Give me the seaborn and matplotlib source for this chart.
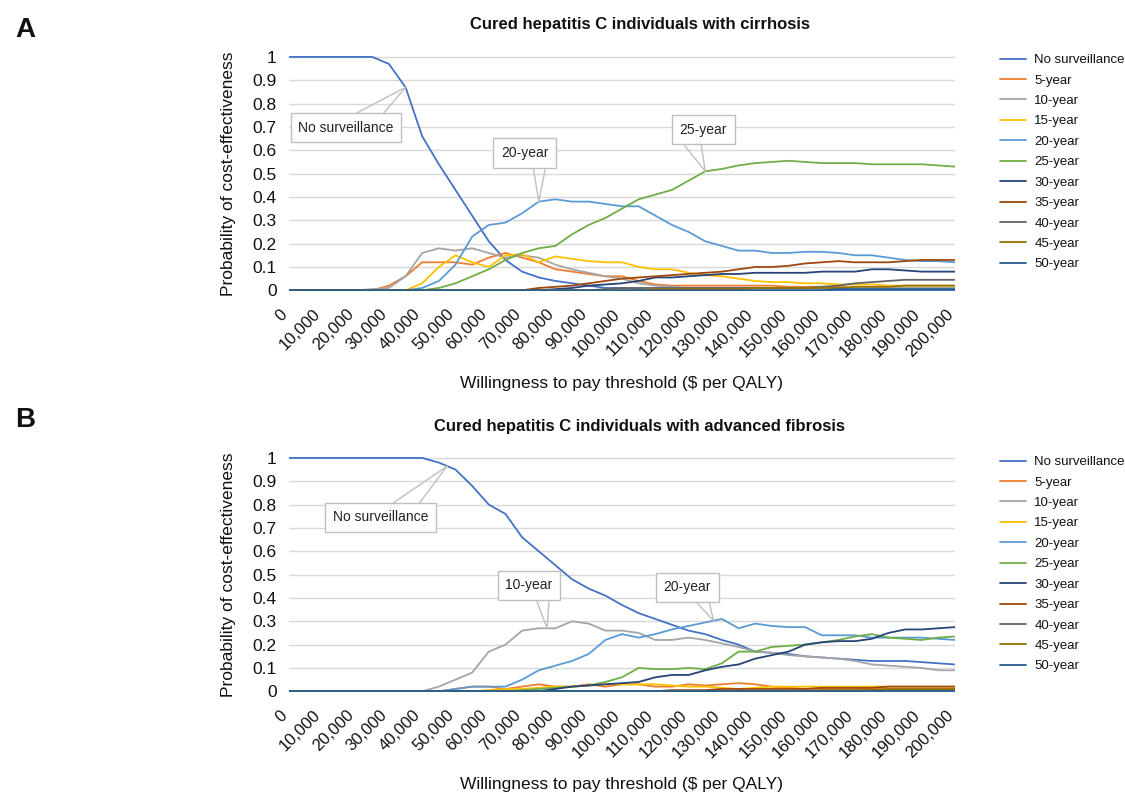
import numpy as np
import pandas as pd
import matplotlib
matplotlib.use("Agg")
import matplotlib.pyplot as plt
import matplotlib.transforms as mtransforms
import seaborn as sns

# Umbral de disposicion a pagar ($ por QALY), cada 5,000
wtp = np.arange(0, 200001, 5000)

strategies = ["No surveillance", "5-year", "10-year", "15-year", "20-year", "25-year",
              "30-year", "35-year", "40-year", "45-year", "50-year"]
colors = ["#4472C4", "#ED7D31", "#A5A5A5", "#FFC000", "#5B9BD5", "#70AD47",
          "#264478", "#9E480E", "#636363", "#997300", "#255E91"]

# ---- Panel A: cirrosis ----
nosurv_a = [1, 1, 1, 1, 1, 1, 0.97, 0.87, 0.66, 0.54,
            0.43, 0.32, 0.21, 0.13, 0.08, 0.055, 0.04, 0.03, 0.02, 0.01,
            0.01, 0.005, 0, 0, 0, 0, 0, 0, 0, 0,
            0, 0, 0, 0, 0, 0, 0, 0, 0, 0,
            0]
y5_a = [0, 0, 0, 0, 0, 0, 0.02, 0.06, 0.12, 0.12,
        0.12, 0.11, 0.14, 0.16, 0.14, 0.12, 0.09, 0.08, 0.07, 0.06,
        0.06, 0.04, 0.025, 0.02, 0.02, 0.02, 0.02, 0.02, 0.02, 0.02,
        0.015, 0.015, 0.015, 0.015, 0.01, 0.01, 0.01, 0.01, 0.01, 0.01,
        0.01]
y10_a = [0, 0, 0, 0, 0, 0.005, 0.01, 0.06, 0.16, 0.18,
         0.17, 0.18, 0.16, 0.14, 0.15, 0.14, 0.11, 0.09, 0.075, 0.06,
         0.05, 0.03, 0.02, 0.015, 0.01, 0.01, 0.01, 0.01, 0.01, 0.01,
         0.01, 0.01, 0.01, 0.01, 0.01, 0.01, 0.01, 0.01, 0.01, 0.01,
         0.01]
y15_a = [0, 0, 0, 0, 0, 0, 0, 0, 0.03, 0.10,
         0.15, 0.12, 0.10, 0.15, 0.155, 0.12, 0.145, 0.135, 0.125, 0.12,
         0.12, 0.10, 0.09, 0.09, 0.075, 0.065, 0.06, 0.05, 0.04, 0.035,
         0.035, 0.03, 0.03, 0.025, 0.025, 0.025, 0.02, 0.02, 0.02, 0.02,
         0.02]
y20_a = [0, 0, 0, 0, 0, 0, 0, 0, 0.01, 0.04,
         0.11, 0.23, 0.28, 0.29, 0.33, 0.38, 0.39, 0.38, 0.38, 0.37,
         0.36, 0.36, 0.32, 0.28, 0.25, 0.21, 0.19, 0.17, 0.17, 0.16,
         0.16, 0.165, 0.165, 0.16, 0.15, 0.15, 0.14, 0.13, 0.125, 0.125,
         0.12]
y25_a = [0, 0, 0, 0, 0, 0, 0, 0, 0, 0.01,
         0.03, 0.06, 0.09, 0.13, 0.16, 0.18, 0.19, 0.24, 0.28, 0.31,
         0.35, 0.39, 0.41, 0.43, 0.47, 0.51, 0.52, 0.535, 0.545, 0.55,
         0.555, 0.55, 0.545, 0.545, 0.545, 0.54, 0.54, 0.54, 0.54, 0.535,
         0.53]
y30_a = [0, 0, 0, 0, 0, 0, 0, 0, 0, 0,
         0, 0, 0, 0, 0, 0, 0.005, 0.01, 0.02, 0.025,
         0.03, 0.04, 0.055, 0.055, 0.06, 0.065, 0.07, 0.07, 0.075, 0.075,
         0.075, 0.075, 0.08, 0.08, 0.08, 0.09, 0.09, 0.085, 0.08, 0.08,
         0.08]
y35_a = [0, 0, 0, 0, 0, 0, 0, 0, 0, 0,
         0, 0, 0, 0, 0, 0.01, 0.015, 0.02, 0.03, 0.04,
         0.05, 0.055, 0.06, 0.065, 0.07, 0.075, 0.08, 0.09, 0.10, 0.10,
         0.105, 0.115, 0.12, 0.125, 0.12, 0.12, 0.12, 0.125, 0.13, 0.13,
         0.13]
y40_a = [0, 0, 0, 0, 0, 0, 0, 0, 0, 0,
         0, 0, 0, 0, 0, 0, 0, 0, 0, 0.005,
         0.01, 0.01, 0.01, 0.01, 0.01, 0.01, 0.01, 0.01, 0.01, 0.01,
         0.01, 0.01, 0.015, 0.02, 0.03, 0.035, 0.04, 0.045, 0.045, 0.045,
         0.045]
y45_a = [0, 0, 0, 0, 0, 0, 0, 0, 0, 0,
         0, 0, 0, 0, 0, 0, 0, 0, 0, 0,
         0, 0, 0.005, 0.005, 0.005, 0.005, 0.005, 0.005, 0.01, 0.01,
         0.01, 0.01, 0.01, 0.01, 0.015, 0.015, 0.015, 0.02, 0.02, 0.02,
         0.02]
y50_a = [0, 0, 0, 0, 0, 0, 0, 0, 0, 0,
         0, 0, 0, 0, 0, 0, 0, 0, 0, 0,
         0, 0, 0, 0, 0, 0, 0, 0, 0, 0,
         0, 0, 0, 0.005, 0.005, 0.005, 0.005, 0.005, 0.005, 0.005,
         0.005]

# ---- Panel B: fibrosis avanzada ----
nosurv_b = [1, 1, 1, 1, 1, 1, 1, 1, 1, 0.98,
            0.95, 0.88, 0.80, 0.76, 0.66, 0.60, 0.54, 0.48, 0.44, 0.41,
            0.37, 0.335, 0.31, 0.285, 0.26, 0.245, 0.22, 0.20, 0.17, 0.165,
            0.16, 0.15, 0.145, 0.14, 0.135, 0.13, 0.13, 0.13, 0.125, 0.12,
            0.115]
y5_b = [0, 0, 0, 0, 0, 0, 0, 0, 0, 0,
        0.01, 0.02, 0.02, 0.01, 0.02, 0.03, 0.02, 0.02, 0.03, 0.02,
        0.03, 0.03, 0.02, 0.02, 0.03, 0.025, 0.03, 0.035, 0.03, 0.02,
        0.015, 0.01, 0.01, 0.01, 0.01, 0.01, 0.01, 0.01, 0.01, 0.01,
        0.01]
y10_b = [0, 0, 0, 0, 0, 0, 0, 0, 0, 0.02,
         0.05, 0.08, 0.17, 0.20, 0.26, 0.27, 0.27, 0.30, 0.29, 0.26,
         0.26, 0.25, 0.22, 0.22, 0.23, 0.22, 0.205, 0.19, 0.17, 0.165,
         0.155, 0.15, 0.145, 0.14, 0.13, 0.115, 0.11, 0.105, 0.10, 0.09,
         0.09]
y15_b = [0, 0, 0, 0, 0, 0, 0, 0, 0, 0,
         0, 0, 0.005, 0.01, 0.01, 0.015, 0.02, 0.02, 0.025, 0.03,
         0.03, 0.03, 0.03, 0.025, 0.02, 0.02, 0.015, 0.01, 0.015, 0.02,
         0.02, 0.02, 0.02, 0.02, 0.02, 0.02, 0.02, 0.02, 0.02, 0.02,
         0.02]
y20_b = [0, 0, 0, 0, 0, 0, 0, 0, 0, 0,
         0.01, 0.02, 0.02, 0.02, 0.05, 0.09, 0.11, 0.13, 0.16, 0.22,
         0.245, 0.23, 0.245, 0.265, 0.28, 0.295, 0.31, 0.27, 0.29, 0.28,
         0.275, 0.275, 0.24, 0.24, 0.24, 0.23, 0.23, 0.23, 0.23, 0.225,
         0.22]
y25_b = [0, 0, 0, 0, 0, 0, 0, 0, 0, 0,
         0, 0, 0, 0, 0.005, 0.01, 0.015, 0.02, 0.025, 0.04,
         0.06, 0.10, 0.095, 0.095, 0.10, 0.095, 0.12, 0.17, 0.17, 0.19,
         0.195, 0.20, 0.21, 0.22, 0.235, 0.245, 0.23, 0.225, 0.22, 0.23,
         0.235]
y30_b = [0, 0, 0, 0, 0, 0, 0, 0, 0, 0,
         0, 0, 0, 0, 0, 0, 0.01, 0.02, 0.025, 0.03,
         0.035, 0.04, 0.06, 0.07, 0.07, 0.09, 0.105, 0.115, 0.14, 0.155,
         0.17, 0.20, 0.21, 0.215, 0.215, 0.225, 0.25, 0.265, 0.265, 0.27,
         0.275]
y35_b = [0, 0, 0, 0, 0, 0, 0, 0, 0, 0,
         0, 0, 0, 0, 0, 0, 0, 0, 0, 0,
         0, 0, 0, 0.005, 0.005, 0.005, 0.01, 0.01, 0.01, 0.01,
         0.01, 0.01, 0.015, 0.015, 0.015, 0.015, 0.02, 0.02, 0.02, 0.02,
         0.02]
y40_b = [0, 0, 0, 0, 0, 0, 0, 0, 0, 0,
         0, 0, 0, 0, 0, 0, 0, 0, 0, 0,
         0, 0, 0, 0, 0, 0, 0, 0, 0, 0,
         0, 0, 0, 0, 0, 0.005, 0.005, 0.005, 0.005, 0.005,
         0.005]
y45_b = [0, 0, 0, 0, 0, 0, 0, 0, 0, 0,
         0, 0, 0, 0, 0, 0, 0, 0, 0, 0,
         0, 0, 0, 0, 0, 0, 0, 0, 0, 0,
         0, 0, 0.005, 0.005, 0.005, 0.005, 0.01, 0.01, 0.01, 0.01,
         0.01]
y50_b = [0] * 41

series_a = [nosurv_a, y5_a, y10_a, y15_a, y20_a, y25_a, y30_a, y35_a, y40_a, y45_a, y50_a]
series_b = [nosurv_b, y5_b, y10_b, y15_b, y20_b, y25_b, y30_b, y35_b, y40_b, y45_b, y50_b]

xticks = np.arange(0, 200001, 10000)
yticks = np.round(np.arange(0, 1.01, 0.1), 1)
ytick_labels = ["0" if v == 0 else ("1" if v == 1 else f"{v:.1f}") for v in yticks]

sns.set_theme(style="white")
plt.rcParams["font.family"] = ["Liberation Sans", "DejaVu Sans"]
plt.rcParams["text.color"] = "#111111"
plt.rcParams["axes.labelcolor"] = "#111111"
plt.rcParams["xtick.color"] = "#111111"
plt.rcParams["ytick.color"] = "#111111"


def long_df(series):
    rows = []
    for name, vals in zip(strategies, series):
        for x, v in zip(wtp, vals):
            rows.append((x, v, name))
    return pd.DataFrame(rows, columns=["wtp", "prob", "strategy"])


def callout(ax, text, name, series, x, box_off, leg_offs):
    # recuadro con dos lineas guia hacia la curva (estilo Excel)
    vals = series[strategies.index(name)]
    y = np.interp(x, wtp, vals)
    for off in leg_offs:
        ax.annotate("", xy=(x, y), xytext=off, textcoords="offset points",
                    arrowprops=dict(arrowstyle="-", color="#BFBFBF", lw=1.0,
                                    shrinkA=0, shrinkB=0), zorder=5)
    ax.annotate(text, xy=(x, y), xytext=box_off, textcoords="offset points",
                ha="center", va="center", fontsize=10, color="#222222", zorder=6,
                bbox=dict(boxstyle="square,pad=0.55", fc="white", ec="#BFBFBF", lw=1.0))


def draw_panel(fig, rect, series, title, title_y, letter, letter_y, legend_top, callouts):
    ax = fig.add_axes(rect)
    df = long_df(series)
    sns.lineplot(data=df, x="wtp", y="prob", hue="strategy", hue_order=strategies,
                 palette=colors, linewidth=1.3, ax=ax)
    ax.set_xlim(0, 200000)
    ax.set_ylim(-0.003, 1.004)
    ax.set_yticks(yticks)
    ax.set_yticklabels(ytick_labels, fontsize=12.5)
    ax.set_xticks(xticks)
    ax.set_xticklabels([f"{v:,}" for v in xticks], rotation=45, ha="right",
                       va="center", rotation_mode="anchor", fontsize=12)
    ax.tick_params(axis="x", length=0, pad=15)
    ax.tick_params(axis="y", length=0, pad=9)
    shift = mtransforms.ScaledTranslation(-3 / 72, 0, fig.dpi_scale_trans)
    for lab in ax.get_xticklabels():
        lab.set_transform(lab.get_transform() + shift)
    ax.grid(axis="y", color="#D9D9D9", lw=1.0)
    ax.set_axisbelow(True)
    for s in ax.spines.values():
        s.set_visible(False)
    ax.set_xlabel("Willingness to pay threshold ($ per QALY)", fontsize=12.5, labelpad=12)
    ax.set_ylabel("Probability of cost-effectiveness", fontsize=12.5, labelpad=12)

    handles, labels = ax.get_legend_handles_labels()
    ax.legend(handles, labels, loc="upper left", bbox_to_anchor=(1000 / 1125, legend_top),
              bbox_transform=fig.transFigure, frameon=False, fontsize=9.5,
              handlelength=2.0, handletextpad=0.6, labelspacing=0.62,
              borderpad=0, borderaxespad=0)

    fig.text(640 / 1125, title_y, title, ha="center", va="center",
             fontsize=12, fontweight="bold")
    fig.text(25 / 1125, letter_y, letter, ha="center", va="center",
             fontsize=20, fontweight="bold")

    for c in callouts:
        callout(ax, c[0], c[1], series, c[2], c[3], c[4])
    return ax


fig = plt.figure(figsize=(11.25, 7.97), dpi=100)

draw_panel(fig, [289 / 1125, 1 - 291 / 797, 666 / 1125, 235 / 797], series_a,
           "Cured hepatitis C individuals with cirrhosis", 1 - 24 / 797,
           "A", 1 - 30 / 797, 1 - 54 / 797,
           [("No surveillance", "No surveillance", 35000, (-43, -29), [(-36, -19), (-16, -19)]),
            ("20-year", "20-year", 75000, (-10, 35), [(-4, 25), (5, 25)]),
            ("25-year", "25-year", 125000, (-1.5, 30), [(-16, 20), (-3, 20)])])

draw_panel(fig, [289 / 1125, 1 - 692 / 797, 666 / 1125, 235 / 797], series_b,
           "Cured hepatitis C individuals with advanced fibrosis", 1 - 426 / 797,
           "B", 1 - 420 / 797, 1 - 456 / 797,
           [("No surveillance", "No surveillance", 47500, (-48, -37), [(-41, -28), (-21, -28)]),
            ("10-year", "10-year", 77500, (-13, 31), [(-8, 21), (1.5, 21)]),
            ("20-year", "20-year", 127500, (-19, 24), [(-14, 15), (-3.5, 15)])])

fig.savefig("out.png", dpi=100)
